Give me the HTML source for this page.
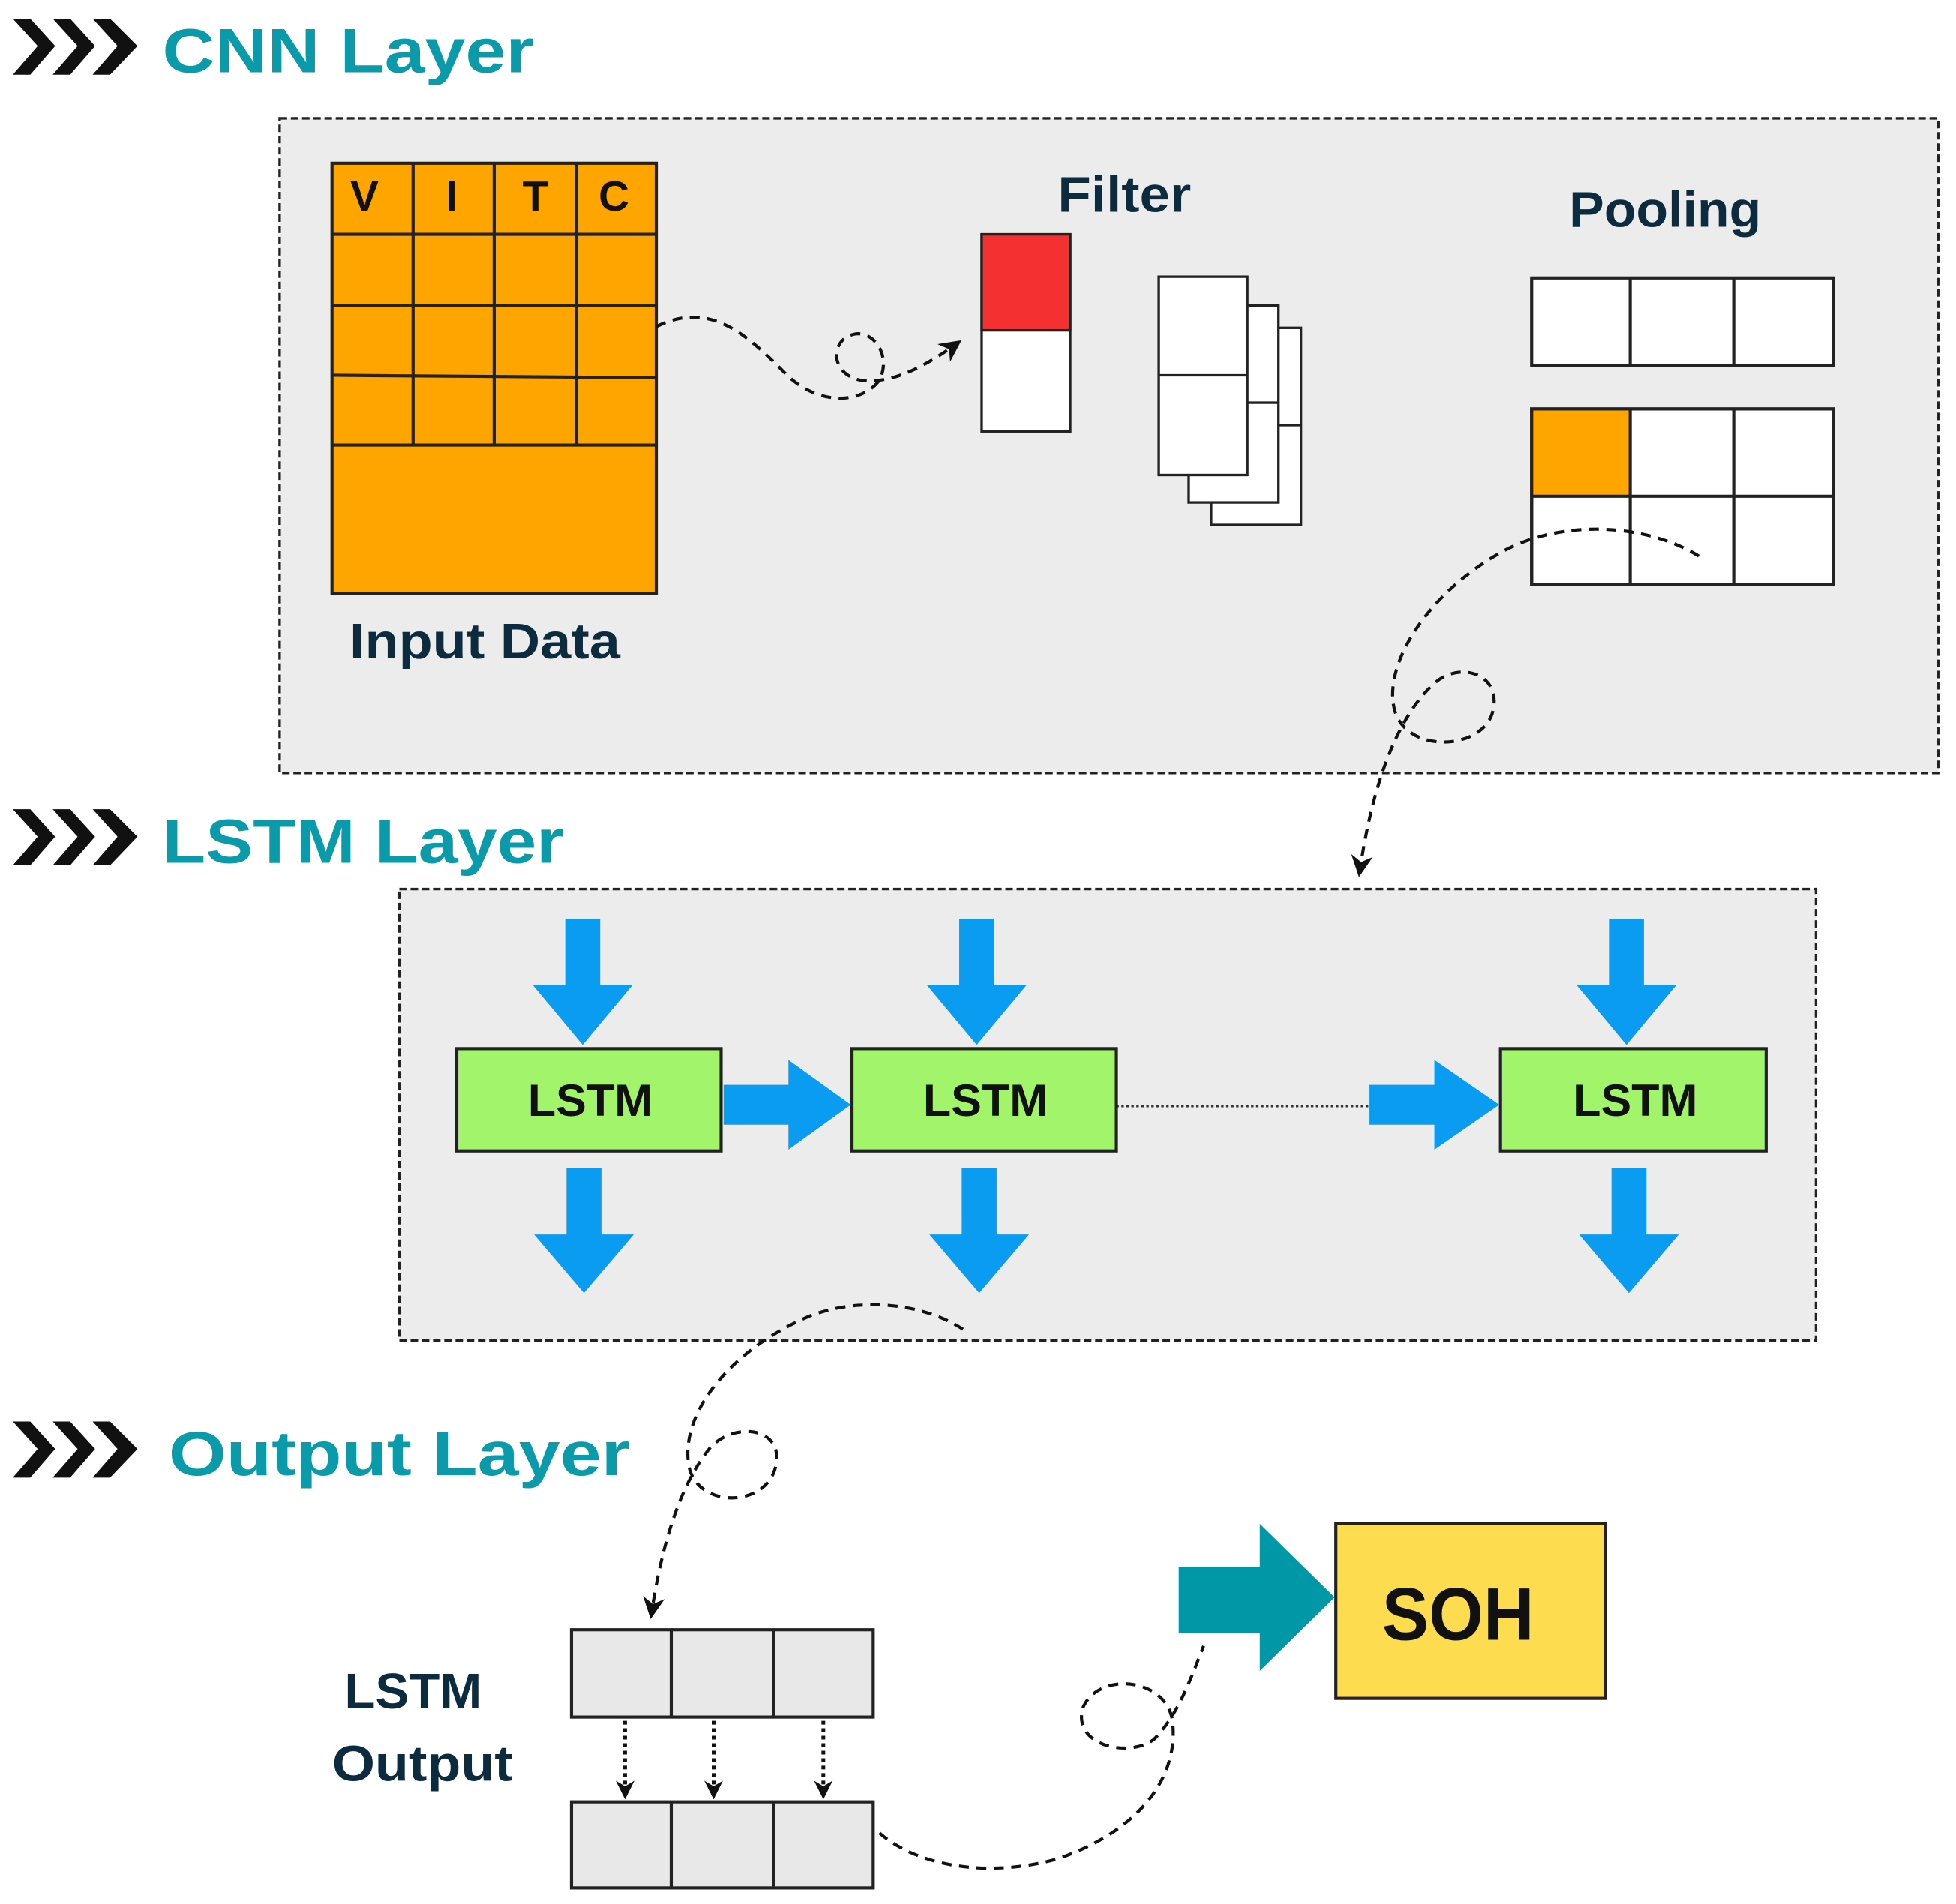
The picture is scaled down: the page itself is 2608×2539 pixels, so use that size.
<!DOCTYPE html>
<html><head><meta charset="utf-8"><style>
html,body{margin:0;padding:0;background:#fff}
svg{display:block}
text{font-family:"Liberation Sans",sans-serif;font-weight:bold}
</style></head><body>
<svg width="2608" height="2539" viewBox="0 0 1568 1527" xmlns="http://www.w3.org/2000/svg">
<defs>
<marker id="ah" viewBox="0 0 10 10" refX="8" refY="5" markerWidth="7" markerHeight="7" orient="auto-start-reverse"><path d="M0,0 L10,5 L0,10 L3,5 z" fill="#111"/></marker>
<marker id="sa" viewBox="0 0 10 10" refX="8" refY="5" markerWidth="5" markerHeight="5" orient="auto"><path d="M0,0 L10,5 L0,10 L3,5 z" fill="#111"/></marker>
<g id="chev"><path d="M10,15 L24,15 L44,37 L24,60 L10,60 L30,37 z M42,15 L56,15 L76,37 L56,60 L42,60 L62,37 z M74,15 L88,15 L110,37 L88,60 L74,60 L94,37 z" fill="#111"/></g>
</defs>
<use href="#chev"/>
<text x="130" y="58" font-size="50" fill="#0a9aaa" textLength="298" lengthAdjust="spacingAndGlyphs">CNN Layer</text>
<use href="#chev" y="634"/>
<text x="130" y="692" font-size="50" fill="#0a9aaa" textLength="322" lengthAdjust="spacingAndGlyphs">LSTM Layer</text>
<use href="#chev" y="1125"/>
<text x="135" y="1183" font-size="50" fill="#0a9aaa" textLength="370" lengthAdjust="spacingAndGlyphs">Output Layer</text>

<rect x="224" y="95" width="1330" height="525" fill="#ececec" stroke="#222" stroke-width="2" stroke-dasharray="6,3"/>
<rect x="266" y="131" width="260" height="345" fill="#FFA500" stroke="#222" stroke-width="2.5"/>
<g stroke="#222" stroke-width="2.5">
<line x1="266" y1="188" x2="526" y2="188"/><line x1="266" y1="245" x2="526" y2="245"/>
<line x1="266" y1="301" x2="526" y2="303"/><line x1="266" y1="357" x2="526" y2="357"/>
<line x1="331" y1="131" x2="331" y2="357"/><line x1="396" y1="131" x2="396" y2="357"/><line x1="462" y1="131" x2="462" y2="357"/>
</g>
<g font-size="34" fill="#111" text-anchor="middle">
<text x="292" y="169">V</text><text x="362" y="169">I</text><text x="429" y="169">T</text><text x="492" y="169">C</text>
</g>
<text x="280" y="528" font-size="40" fill="#0d2b3e" textLength="217" lengthAdjust="spacingAndGlyphs">Input Data</text>
<text x="848" y="170" font-size="40" fill="#0d2b3e" textLength="107" lengthAdjust="spacingAndGlyphs">Filter</text>
<rect x="787" y="188" width="71" height="158" fill="#fff" stroke="#222" stroke-width="2"/>
<rect x="787" y="188" width="71" height="77" fill="#f43030" stroke="#222" stroke-width="2"/>
<g fill="#fff" stroke="#222" stroke-width="2">
<rect x="971" y="263" width="72" height="158"/><line x1="971" y1="341" x2="1043" y2="341"/>
<rect x="953" y="245" width="72" height="158"/><line x1="953" y1="323" x2="1025" y2="323"/>
<rect x="929" y="222" width="71" height="159"/><line x1="929" y1="301" x2="1000" y2="301"/>
</g>
<text x="1258" y="182" font-size="40" fill="#0d2b3e" textLength="154" lengthAdjust="spacingAndGlyphs">Pooling</text>
<g fill="#fff" stroke="#222" stroke-width="2.5">
<rect x="1228" y="223" width="242" height="70"/><line x1="1307" y1="223" x2="1307" y2="293"/><line x1="1390" y1="223" x2="1390" y2="293"/>
<rect x="1228" y="328" width="242" height="141"/>
</g>
<rect x="1228" y="328" width="79" height="70" fill="#FFA500"/>
<g stroke="#222" stroke-width="2.5"><line x1="1228" y1="398" x2="1470" y2="398"/><line x1="1307" y1="328" x2="1307" y2="469"/><line x1="1390" y1="328" x2="1390" y2="469"/><rect x="1228" y="328" width="242" height="141" fill="none"/></g>

<rect x="320" y="713" width="1136" height="362" fill="#ececec" stroke="#222" stroke-width="2" stroke-dasharray="6,3"/>
<g fill="#0a9cf0">
<path d="M453,737 h28 v53 h26 l-40,48 l-40,-48 h26 z"/>
<path d="M769,737 h28 v53 h26 l-40,48 l-40,-48 h26 z"/>
<path d="M1290,737 h28 v53 h26 l-40,48 l-40,-48 h26 z"/>
<path d="M454,937 h28 v53 h26 l-40,47 l-40,-47 h26 z"/>
<path d="M771,937 h28 v53 h26 l-40,47 l-40,-47 h26 z"/>
<path d="M1292,937 h28 v53 h26 l-40,47 l-40,-47 h26 z"/>
<path d="M580,870 h52 v-20 l50,36 l-50,36 v-20 h-52 z"/>
<path d="M1098,870 h52 v-20 l52,36 l-52,36 v-20 h-52 z"/>
</g>
<line x1="895" y1="887" x2="1098" y2="887" stroke="#333" stroke-width="2" stroke-dasharray="2,2"/>
<g fill="#a2f56a" stroke="#222" stroke-width="2.5">
<rect x="366" y="841" width="212" height="82"/><rect x="683" y="841" width="212" height="82"/><rect x="1203" y="841" width="213" height="82"/>
</g>
<g font-size="36" fill="#111">
<text x="423" y="895" textLength="100" lengthAdjust="spacingAndGlyphs">LSTM</text><text x="740" y="895" textLength="100" lengthAdjust="spacingAndGlyphs">LSTM</text><text x="1261" y="895" textLength="100" lengthAdjust="spacingAndGlyphs">LSTM</text>
</g>

<text x="276" y="1370" font-size="40" fill="#0d2b3e" textLength="110" lengthAdjust="spacingAndGlyphs">LSTM</text>
<text x="266" y="1428" font-size="40" fill="#0d2b3e" textLength="145" lengthAdjust="spacingAndGlyphs">Output</text>
<g fill="#e8e8e8" stroke="#222" stroke-width="2.5">
<rect x="458" y="1307" width="242" height="70"/><line x1="538" y1="1307" x2="538" y2="1377"/><line x1="620" y1="1307" x2="620" y2="1377"/>
<rect x="458" y="1445" width="242" height="69"/><line x1="538" y1="1445" x2="538" y2="1514"/><line x1="620" y1="1445" x2="620" y2="1514"/>
</g>
<g stroke="#111" stroke-width="3" stroke-dasharray="3,3">
<line x1="501" y1="1380" x2="501" y2="1440" marker-end="url(#sa)"/>
<line x1="572" y1="1380" x2="572" y2="1440" marker-end="url(#sa)"/>
<line x1="660" y1="1380" x2="660" y2="1440" marker-end="url(#sa)"/>
</g>
<path d="M945,1257 h65 v-35 l60,59 l-60,59 v-30 h-65 z" fill="#0097a7"/>
<rect x="1071" y="1222" width="216" height="140" fill="#fddc4f" stroke="#222" stroke-width="2.5"/>
<text x="1108" y="1315" font-size="60" fill="#111" textLength="122" lengthAdjust="spacingAndGlyphs">SOH</text>

<g fill="none" stroke="#111" stroke-width="2.5" stroke-dasharray="8,6">
<path d="M526,262 C570,240 600,270 630,300 C655,325 690,325 705,305 C715,285 700,265 685,268 C665,272 665,300 690,305 C715,308 740,295 768,275" marker-end="url(#ah)"/>
<path d="M1362,446 C1320,420 1250,415 1200,445 C1140,480 1105,540 1120,575 C1135,605 1190,600 1197,570 C1204,540 1170,530 1150,548 C1120,575 1100,630 1090,700" marker-end="url(#ah)"/>
<path d="M772,1066 C740,1045 690,1040 650,1055 C590,1080 545,1130 552,1175 C558,1210 615,1210 622,1175 C628,1145 590,1140 570,1160 C545,1190 530,1240 522,1295" marker-end="url(#ah)"/>
<path d="M705,1470 C740,1500 800,1505 850,1490 C920,1465 945,1420 940,1380 C935,1345 880,1340 868,1370 C860,1400 905,1410 925,1395 C945,1375 955,1345 965,1320"/>
</g>
</svg>
</body></html>
